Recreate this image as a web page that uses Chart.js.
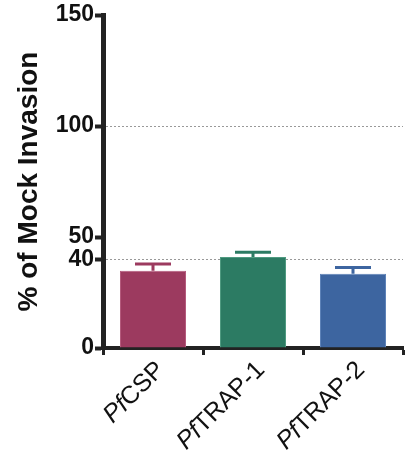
<!DOCTYPE html>
<html>
<head>
<meta charset="utf-8">
<script src="https://cdn.jsdelivr.net/npm/chart.js@4"></script>
<style>
  html, body { margin: 0; padding: 0; background: #fff; }
  #wrap { width: 408px; height: 463px; }
</style>
</head>
<body>
<div id="wrap"><canvas id="grafico"></canvas></div>
<script>
var categorias = ["PfCSP", "PfTRAP-1", "PfTRAP-2"];
var valores = [34.8, 41.0, 33.4];
var erros = [3.0, 2.1, 2.9];
var ticksY = [0, 40, 50, 100, 150];
var linhasRef = [40, 100];

var cores = ['#9c3a5f', '#2c7b63', '#3d65a0'];
var bordas = ['#b45a7c', '#4f9a80', '#5d82b8'];
var fonte = 'Liberation Sans, Arial, sans-serif';

// barras de erro (so para cima)
var errorBars = {
  id: 'errorBars',
  afterDatasetsDraw: function(chart) {
    var ctx = chart.ctx;
    var y = chart.scales.y;
    var meta = chart.getDatasetMeta(0);
    meta.data.forEach(function(bar, i) {
      var topo = y.getPixelForValue(valores[i] + erros[i]);
      ctx.save();
      ctx.strokeStyle = cores[i];
      ctx.lineWidth = 3;
      ctx.beginPath();
      ctx.moveTo(bar.x, bar.y);
      ctx.lineTo(bar.x, topo);
      ctx.moveTo(bar.x - 18, topo);
      ctx.lineTo(bar.x + 18, topo);
      ctx.stroke();
      ctx.restore();
    });
  }
};

// rotulos do eixo x com "Pf" em italico
var rotulosX = {
  id: 'rotulosX',
  afterDraw: function(chart) {
    var ctx = chart.ctx;
    var x = chart.scales.x;
    var base = x.top + 18;
    categorias.forEach(function(txt, i) {
      var px = x.getPixelForTick(i) + 8;
      var pre = txt.substring(0, 2);
      var resto = txt.substring(2);
      ctx.save();
      ctx.translate(px, base);
      ctx.rotate(-Math.PI / 4);
      ctx.fillStyle = '#111';
      ctx.textBaseline = 'middle';
      ctx.textAlign = 'right';
      ctx.font = '25px ' + fonte;
      var w = ctx.measureText(resto).width;
      ctx.fillText(resto, 0, 0);
      ctx.font = 'italic 25px ' + fonte;
      ctx.fillText(pre, -w, 0);
      ctx.restore();
    });
  }
};

var ctx = document.getElementById("grafico");

var meuGrafico = new Chart(ctx, {
  type: 'bar',
  data: {
    labels: categorias,
    datasets: [
      {
        data: valores,
        backgroundColor: cores,
        borderColor: bordas,
        borderWidth: 1,
        barPercentage: 0.66,
        categoryPercentage: 1
      }
    ]
  },
  options: {
    responsive: true,
    maintainAspectRatio: false,
    animation: false,
    layout: { padding: { top: 15, right: 5, left: 0, bottom: 0 } },
    plugins: {
      legend: { display: false },
      tooltip: { enabled: false }
    },
    scales: {
      x: {
        grid: {
          drawOnChartArea: false,
          tickLength: 7,
          tickColor: '#222',
          tickWidth: 3
        },
        border: { color: '#222', width: 4 },
        ticks: {
          color: 'rgba(0,0,0,0)',
          font: { family: fonte, size: 21 },
          minRotation: 45,
          maxRotation: 45
        },
        afterFit: function(scale) { scale.height = 115; }
      },
      y: {
        min: 0,
        max: 150,
        afterBuildTicks: function(scale) {
          scale.ticks = ticksY.map(function(v) { return { value: v }; });
        },
        grid: {
          color: function(c) {
            return c.tick && linhasRef.indexOf(c.tick.value) >= 0 ? '#999' : 'rgba(0,0,0,0)';
          },
          lineWidth: 1,
          tickLength: 8,
          tickColor: '#222',
          tickWidth: 4,
          tickBorderDash: []
        },
        border: { color: '#222', width: 5, dash: [2, 2] },
        ticks: {
          color: '#111',
          font: { family: fonte, size: 23, weight: 'bold' },
          padding: 1
        },
        title: {
          display: true,
          text: '% of Mock Invasion',
          color: '#111',
          font: { family: fonte, size: 28, weight: 'bold' },
          padding: { top: 12, bottom: 4 }
        },
        afterFit: function(scale) { scale.width = 103; }
      }
    }
  },
  plugins: [errorBars, rotulosX]
});
</script>
</body>
</html>
